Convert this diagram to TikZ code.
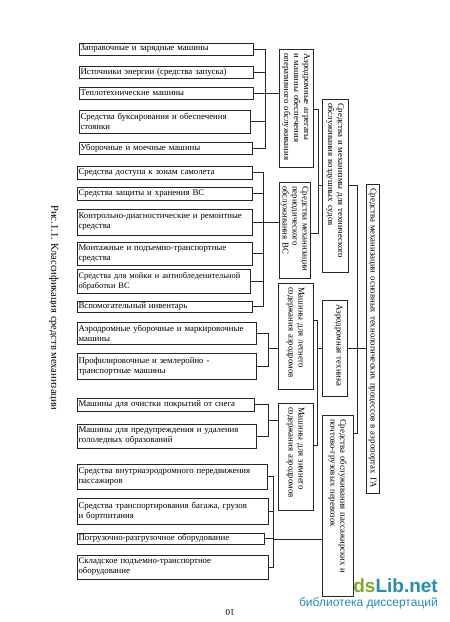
\documentclass[tikz,border=0pt]{standalone}
\usepackage{fontspec}
\setmainfont{Liberation Serif}
\newfontfamily\wmfont{Liberation Sans}
\definecolor{wmgreen}{RGB}{128,168,40}
\definecolor{wmblue}{RGB}{38,140,184}
\newcommand\lbox[6]{%
  \pgfmathsetmacro\bxc{(#2+#4)/2}%
  \pgfmathsetmacro\byc{(#3+#5)/2}%
  \pgfmathsetmacro\bw{#4-#2}%
  \pgfmathsetmacro\bh{#5-#3}%
  \pgfmathsetmacro\btw{#4-#2-3}%
  \node[lbx, minimum width=\bw pt, minimum height=\bh pt, text width=\btw pt] (#1) at (\bxc,\byc) {#6};}
\newcommand\rbox[6]{%
  \pgfmathsetmacro\bxc{(#2+#4)/2}%
  \pgfmathsetmacro\byc{(#3+#5)/2}%
  \pgfmathsetmacro\bw{#4-#2}%
  \pgfmathsetmacro\bh{#5-#3}%
  \pgfmathsetmacro\btw{#5-#3-8}%
  \node[rbx, minimum width=\bh pt, minimum height=\bw pt, text width=\btw pt] (#1) at (\bxc,\byc) {#6};}
\tikzset{
  lbx/.style={draw=black!85, line width=1pt, inner sep=0pt, align=left,
    font=\fontsize{8.8}{10}\selectfont},
  rbx/.style={lbx, rotate=-90},
  conn/.style={line width=0.7pt, draw=black!85}
}
\begin{document}
\begin{tikzpicture}[x=1pt,y=-1pt]
\useasboundingbox (0,0) rectangle (450,622);
% left boxes
\lbox{b1}{79}{43}{253}{55}{Заправочные и зарядные машины}
\lbox{b2}{79}{66}{253}{78}{Источники энергии (средства запуска)}
\lbox{b3}{79}{87}{253}{99}{Теплотехнические машины}
\lbox{b4}{79}{110}{250}{133}{Средства буксирования и обеспечения\\стоянки}
\lbox{b5}{79}{142}{252}{154}{Уборочные и моечные машины}
\lbox{b6}{77}{166}{252}{179}{Средства доступа к зонам самолета}
\lbox{b7}{77}{187}{252}{200}{Средства защиты и хранения ВС}
\lbox{b8}{77}{209}{252}{235}{Контрольно-диагностические и ремонтные\\средства}
\lbox{b9}{77}{242}{252}{265}{Монтажные и подъемно-транспортные\\средства}
\lbox{b10}{77}{269}{250}{293}{\fontsize{8.4}{10}\selectfont Средства для мойки и антиобледенительной\\обработки ВС}
\lbox{b11}{77}{301}{252}{312}{Вспомогательный инвентарь}
\lbox{b12}{77}{322}{256}{344}{Аэродромные уборочные и маркировочные\\машины}
\lbox{b13}{77}{353}{256}{379}{Профилировочные и землеройно -\\транспортные машины}
\lbox{b14}{77}{398}{254}{411}{Машины для очистки покрытий от снега}
\lbox{b15}{77}{424}{256}{448}{Машины для предупреждения и удаления\\гололедных образований}
\lbox{b16}{77}{464}{267}{489}{Средства внутриаэродромного передвижения\\пассажиров}
\lbox{b17}{77}{498}{268}{524}{Средства транспортирования багажа, грузов\\и бортпитания}
\lbox{b18}{77}{533}{264}{544}{Погрузочно-разгрузочное оборудование}
\lbox{b19}{77}{555}{268}{579}{Складское подъемно-транспортное\\оборудование}
% rotated boxes
\rbox{A}{279}{49}{313}{167}{Аэродромные агрегаты\\и машины обеспечения\\оперативного обслуживания}
\rbox{B}{279}{182}{310}{278}{Средства механизации\\периодического\\обслуживания ВС}
\rbox{C}{278}{283}{313}{389}{Машины для летнего\\содержания аэродромов}
\rbox{D}{278}{403}{313}{510}{Машины для зимнего\\содержания аэродромов}
\rbox{E}{322}{99}{348}{272}{Средства и механизмы для технического\\обслуживания воздушных судов}
\rbox{F}{322}{300}{347}{396}{Аэродромная техника\\\mbox{}}
\rbox{G}{322}{415}{353}{596}{Средства обслуживания пассажирских и\\почтово-грузовых перевозок}
\rbox{H}{366}{184}{379}{493}{Средства механизации основных технологических процессов в аэропортах ГА}
% connector coordinates
\coordinate (k1) at (265,93);
\coordinate (k2) at (263,222);
\coordinate (k3) at (268,348);
\coordinate (k4) at (268,420);
\coordinate (k5) at (273,539);
\coordinate (k6) at (318,185.5);
\coordinate (k7) at (317,348);
\coordinate (k8) at (357,348);
\coordinate (ya) at (0,109);
\coordinate (yb) at (0,233);
\coordinate (yc) at (0,320);
\coordinate (yd) at (0,445);
\coordinate (yg) at (0,433);
% left brackets
\foreach \n in {b1,b2,b3,b4,b5} \draw[conn] (\n.east) -| (k1);
\draw[conn] (k1) -- (k1 -| A.south);
\foreach \n in {b6,b7,b8,b9,b10,b11} \draw[conn] (\n.east) -| (k2);
\draw[conn] (k2) -- (k2 -| B.south);
\foreach \n in {b12,b13} \draw[conn] (\n.east) -| (k3);
\draw[conn] (k3) -- (k3 -| C.south);
\foreach \n in {b14,b15} \draw[conn] (\n.east) -| (k4);
\draw[conn] (k4) -- (k4 -| D.south);
\foreach \n in {b16,b17,b18,b19} \draw[conn] (\n.east) -| (k5);
\draw[conn] (k5) -- (k5 -| G.south);
% middle brackets
\draw[conn] (ya -| A.north) -| (k6);
\draw[conn] (yb -| B.north) -| (k6);
\draw[conn] (k6) -- (k6 -| E.south);
\draw[conn] (yc -| C.north) -| (k7);
\draw[conn] (yd -| D.north) -| (k7);
\draw[conn] (k7) -- (k7 -| F.south);
% right bracket
\draw[conn] (E.north) -| (k8);
\draw[conn] (yg -| G.north) -| (k8);
\draw[conn] (k8 -| F.north) -- (k8 -| H.south);
% caption and page number
\node[rotate=-90, font=\fontsize{10.5}{12}\selectfont] (cap) at (54,308) {Рис.1.1. Классификация средств механизации};
\node[rotate=180, font=\fontsize{9}{10}\selectfont] (pg) at (230,612) {10};
% watermark
\node[anchor=base east, inner sep=0pt, font=\wmfont\bfseries\fontsize{19}{20}\selectfont] (wm1) at (438,592) {\textcolor{wmgreen}{ds}\textcolor{wmblue}{Lib.net}};
\node[anchor=base east, inner sep=0pt, text=wmblue, font=\wmfont\fontsize{12}{13}\selectfont] (wm2) at (438,606) {библиотека диссертаций};
\end{tikzpicture}
\end{document}
